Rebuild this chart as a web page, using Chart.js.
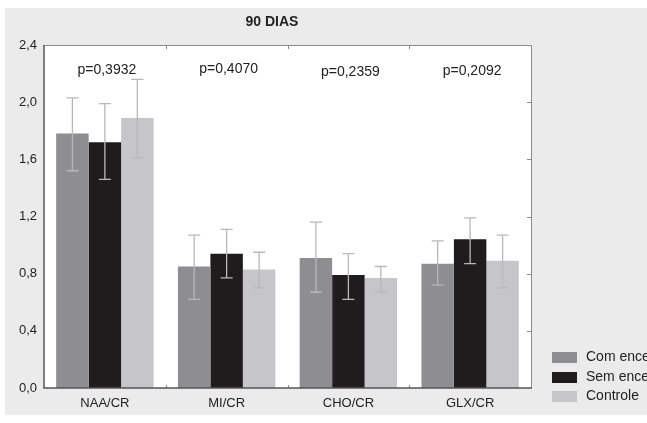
<!DOCTYPE html>
<html>
<head>
<meta charset="utf-8">
<script src="https://cdn.jsdelivr.net/npm/chart.js@4"></script>
<style>
  html, body { margin: 0; padding: 0; background: #fff; }
  canvas { display: block; }
</style>
</head>
<body>
<canvas id="chart90" width="647" height="423"></canvas>
<script>
// 90 DIAS - metabolite ratios, mean with error bars
const categories = ["NAA/CR", "MI/CR", "CHO/CR", "GLX/CR"];

const comEnce = [1.78, 0.85, 0.91, 0.87];
const comLow = [1.52, 0.62, 0.67, 0.72];
const comHigh = [2.03, 1.07, 1.16, 1.03];

const semEnce = [1.72, 0.94, 0.79, 1.04];
const semLow = [1.46, 0.77, 0.62, 0.87];
const semHigh = [1.99, 1.11, 0.94, 1.19];

const controle = [1.89, 0.83, 0.77, 0.89];
const ctrlLow = [1.61, 0.70, 0.67, 0.70];
const ctrlHigh = [2.16, 0.95, 0.85, 1.07];

const pValues = ["p=0,3932", "p=0,4070", "p=0,2359", "p=0,2092"];
const pLabelY = [2.225, 2.232, 2.211, 2.218];

const yTicks = [0, 0.4, 0.8, 1.2, 1.6, 2.0, 2.4];

const COLORS = {
  com: "#8e8e90",
  sem: "#1f1c1d",
  ctrl: "#c6c6c8",
  err: "#b8b8b8",
  panel: "#ebebeb",
  axis: "#555555",
  frame: "#8a8a8a",
  text: "#222222",
};

const FONT = "'Liberation Sans', Arial, sans-serif";

// background panel + white plot area
const backgroundPlugin = {
  id: "background",
  beforeDraw(chart) {
    const { ctx, chartArea: a } = chart;
    ctx.save();
    ctx.fillStyle = "#fff";
    ctx.fillRect(0, 0, chart.width, chart.height);
    ctx.fillStyle = COLORS.panel;
    ctx.fillRect(5, 8, chart.width - 5, 407);
    ctx.fillStyle = "#fff";
    ctx.fillRect(a.left, a.top, a.right - a.left, a.bottom - a.top);
    ctx.restore();
  },
};

// error bars drawn from the low/high arrays
const errorBarPlugin = {
  id: "errorBars",
  afterDatasetsDraw(chart) {
    const { ctx } = chart;
    const y = chart.scales.y;
    ctx.save();
    ctx.strokeStyle = COLORS.err;
    ctx.lineWidth = 1.3;
    chart.data.datasets.forEach((ds, di) => {
      const meta = chart.getDatasetMeta(di);
      meta.data.forEach((bar, i) => {
        const x = bar.x;
        const lo = y.getPixelForValue(ds.errLow[i]);
        const hi = y.getPixelForValue(ds.errHigh[i]);
        ctx.beginPath();
        ctx.moveTo(x, lo);
        ctx.lineTo(x, hi);
        ctx.moveTo(x - 6, lo);
        ctx.lineTo(x + 6, lo);
        ctx.moveTo(x - 6, hi);
        ctx.lineTo(x + 6, hi);
        ctx.stroke();
      });
    });
    ctx.restore();
  },
};

// frame, inner ticks, title, p-values and legend
const decorPlugin = {
  id: "decor",
  afterDraw(chart) {
    const { ctx, chartArea: a } = chart;
    const x = chart.scales.x;
    const y = chart.scales.y;
    ctx.save();

    // top and right border
    ctx.strokeStyle = COLORS.frame;
    ctx.lineWidth = 1;
    ctx.beginPath();
    ctx.moveTo(a.left, a.top + 0.5);
    ctx.lineTo(a.right + 0.5, a.top + 0.5);
    ctx.lineTo(a.right + 0.5, a.bottom);
    ctx.stroke();

    // category boundary ticks (top and bottom), y ticks on right border
    ctx.beginPath();
    for (let i = 1; i < categories.length; i++) {
      const bx = Math.round((x.getPixelForValue(i - 1) + x.getPixelForValue(i)) / 2) + 0.5;
      ctx.moveTo(bx, a.top);
      ctx.lineTo(bx, a.top + 4);
      ctx.moveTo(bx, a.bottom);
      ctx.lineTo(bx, a.bottom - 3);
    }
    yTicks.forEach((v) => {
      if (v === 0 || v === 2.4) return;
      const py = Math.round(y.getPixelForValue(v)) + 0.5;
      ctx.moveTo(a.right, py);
      ctx.lineTo(a.right - 4, py);
    });
    ctx.stroke();

    // left and bottom axes
    ctx.strokeStyle = COLORS.axis;
    ctx.lineWidth = 1.5;
    ctx.beginPath();
    ctx.moveTo(a.left, a.top);
    ctx.lineTo(a.left, a.bottom);
    ctx.lineTo(a.right + 1, a.bottom);
    ctx.stroke();

    // title
    ctx.fillStyle = COLORS.text;
    ctx.textAlign = "center";
    ctx.textBaseline = "middle";
    ctx.font = "bold 14px " + FONT;
    ctx.fillText("90 DIAS", 272, 22);

    // p-values
    ctx.font = "14px " + FONT;
    pValues.forEach((p, i) => {
      ctx.fillText(p, x.getPixelForValue(i) + 2, y.getPixelForValue(pLabelY[i]));
    });

    // legend
    ctx.textAlign = "left";
    ctx.font = "14px " + FONT;
    const rows = [357, 377, 396];
    chart.data.datasets.forEach((ds, i) => {
      ctx.fillStyle = ds.backgroundColor;
      ctx.fillRect(552, rows[i] - 5, 25, 11);
      ctx.fillStyle = COLORS.text;
      ctx.fillText(ds.label, 586, rows[i]);
    });

    ctx.restore();
  },
};

new Chart(document.getElementById("chart90"), {
  type: "bar",
  data: {
    labels: categories,
    datasets: [
      {
        label: "Com encefalopatia",
        data: comEnce,
        errLow: comLow,
        errHigh: comHigh,
        backgroundColor: COLORS.com,
      },
      {
        label: "Sem encefalopatia",
        data: semEnce,
        errLow: semLow,
        errHigh: semHigh,
        backgroundColor: COLORS.sem,
      },
      {
        label: "Controle",
        data: controle,
        errLow: ctrlLow,
        errHigh: ctrlHigh,
        backgroundColor: COLORS.ctrl,
      },
    ],
  },
  options: {
    responsive: false,
    animation: false,
    layout: { padding: { left: 0, top: 45, right: 116, bottom: 0 } },
    datasets: {
      bar: { categoryPercentage: 0.8, barPercentage: 1.0 },
    },
    plugins: {
      legend: { display: false },
      title: { display: false },
      tooltip: { enabled: false },
    },
    scales: {
      x: {
        grid: { display: false, drawTicks: false },
        border: { display: false },
        ticks: {
          color: COLORS.text,
          font: { family: FONT, size: 13 },
          padding: 8,
        },
        afterFit(scale) {
          scale.height = 35;
        },
      },
      y: {
        min: 0,
        max: 2.4,
        afterBuildTicks(scale) {
          scale.ticks = yTicks.map((v) => ({ value: v }));
        },
        grid: { display: false, drawTicks: false },
        border: { display: false },
        ticks: {
          color: COLORS.text,
          font: { family: FONT, size: 13 },
          padding: 7,
          callback: (v) => Number(v).toFixed(1).replace(".", ","),
        },
        afterFit(scale) {
          scale.width = 44;
        },
      },
    },
  },
  plugins: [backgroundPlugin, errorBarPlugin, decorPlugin],
});
</script>
</body>
</html>
